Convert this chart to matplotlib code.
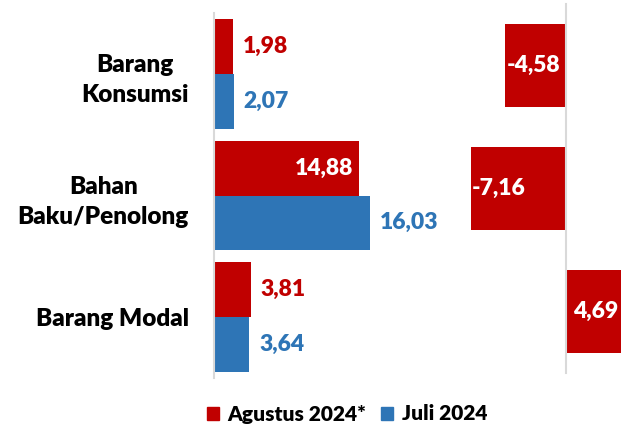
import matplotlib
matplotlib.use("Agg")
import matplotlib.pyplot as plt
from matplotlib.patches import Patch

categories = ["Barang\nKonsumsi", "Bahan\nBaku/Penolong", "Barang Modal"]
agustus = [1.98, 14.88, 3.81]
juli = [2.07, 16.03, 3.64]
perubahan = [-4.58, -7.16, 4.69]
series_names = ["Agustus 2024*", "Juli 2024"]

RED = "#C00000"
BLUE = "#2E75B6"
GRID = "#D9D9D9"

plt.rcParams['font.family'] = ['Lato', 'DejaVu Sans']
plt.rcParams['font.weight'] = 'bold'
FS_CAT = 17.5
FS_VAL = 16.5
FS_LEG = 15

W, H = 621, 428
fig = plt.figure(figsize=(W / 100, H / 100), dpi=100)

def fx(px):
    return px / W

def fy(py):
    return 1 - py / H

# Left panel
axL = fig.add_axes([fx(214), fy(378), fx(450 - 214), (378 - 13) / H])
axL.patch.set_alpha(0)
pos = list(range(len(categories)))
bh = 0.45
axL.barh([p - bh / 2 for p in pos], agustus, height=bh, color=RED)
axL.barh([p + bh / 2 for p in pos], juli, height=bh, color=BLUE)
axL.set_xlim(0, 236 / 9.73)
axL.set_ylim(2.5, -0.5)
for s in ["top", "right", "bottom"]:
    axL.spines[s].set_visible(False)
axL.spines["left"].set_color(GRID)
axL.spines["left"].set_linewidth(1.5)
axL.set_xticks([])
axL.set_yticks(pos)
axL.set_yticklabels(categories, fontsize=FS_CAT, fontweight='heavy', multialignment='center', linespacing=1.45)
axL.tick_params(axis='y', length=0, pad=18)

def fmt(v):
    return f"{v:.2f}".replace(".", ",")

for p, v in zip(pos, agustus):
    if v > 10:
        axL.annotate(fmt(v), (v, p - bh / 2), xytext=(-4, 0), textcoords="offset points",
                     ha="right", va="center", color="white", fontsize=FS_VAL, fontweight='heavy')
    else:
        axL.annotate(fmt(v), (v, p - bh / 2), xytext=(7, 0), textcoords="offset points",
                     ha="left", va="center", color=RED, fontsize=FS_VAL, fontweight='heavy')
for p, v in zip(pos, juli):
    axL.annotate(fmt(v), (v, p + bh / 2), xytext=(7, 0), textcoords="offset points",
                 ha="left", va="center", color=BLUE, fontsize=FS_VAL, fontweight='heavy')

# Right panel (partially cut)
x0 = 566
scale = 13.3
xmin, xmax = -8, 5
axR = fig.add_axes([fx(x0 + xmin * scale), fy(373), fx((xmax - xmin) * scale), (373 - 4) / H])
axR.patch.set_alpha(0)
axR.barh(pos, perubahan, height=0.667, color=RED)
axR.set_xlim(xmin, xmax)
axR.set_ylim(2.5, -0.5)
for s in ["top", "right", "bottom"]:
    axR.spines[s].set_visible(False)
axR.spines["left"].set_position(("data", 0))
axR.spines["left"].set_color(GRID)
axR.spines["left"].set_linewidth(1.5)
axR.set_xticks([])
axR.set_yticks([])
for p, v in zip(pos, perubahan):
    if v < 0:
        axR.annotate(fmt(v), (v, p), xytext=(1, 0), textcoords="offset points",
                     ha="left", va="center", color="white", fontsize=FS_VAL, fontweight='heavy')
    else:
        axR.annotate(fmt(v), (v, p), xytext=(-7, 0), textcoords="offset points",
                     ha="right", va="center", color="white", fontsize=FS_VAL, fontweight='heavy')

handles = [Patch(color=RED), Patch(color=BLUE)]
fig.legend(handles, series_names, loc="center", bbox_to_anchor=(fx(347), fy(414)),
           ncol=2, frameon=False, handlelength=0.6, handleheight=0.6,
           handletextpad=0.4, columnspacing=0.7, prop={'weight': 'heavy', 'size': FS_LEG})

fig.savefig("out.png", dpi=100)
